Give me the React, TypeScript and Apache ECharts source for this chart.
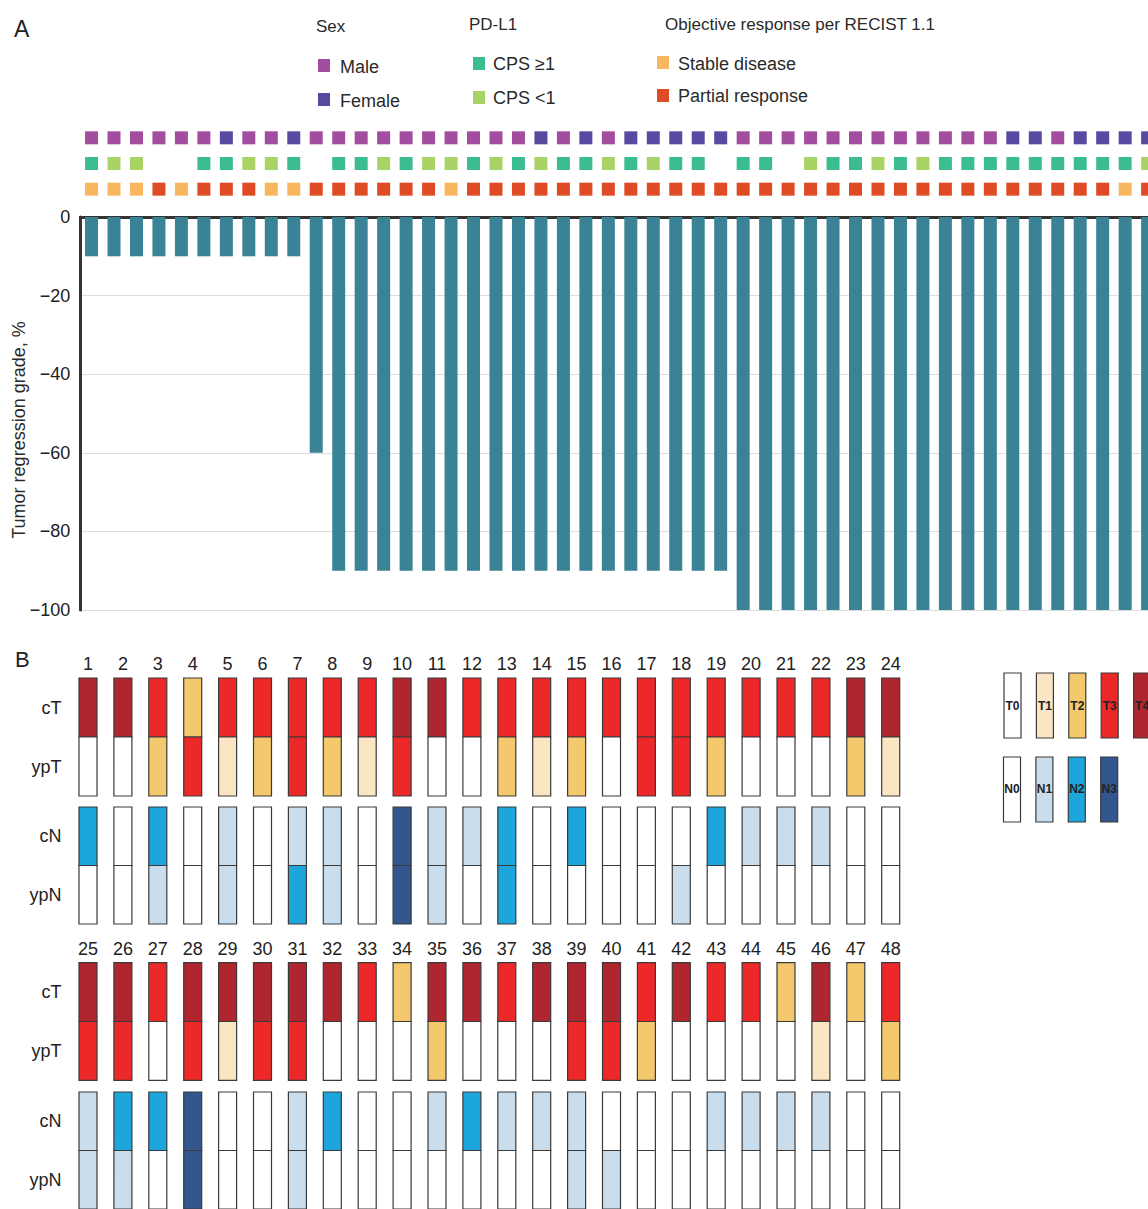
import React, { useEffect, useRef } from 'react';
import * as echarts from 'echarts';

// ---------- data ----------
const patients = ['1','2','3','4','5','6','7','8','9','10','11','12','13','14','15','16','17','18','19','20','21','22','23','24',
  '25','26','27','28','29','30','31','32','33','34','35','36','37','38','39','40','41','42','43','44','45','46','47','48'];

const regression = [-10,-10,-10,-10,-10,-10,-10,-10,-10,-10,-60,
  -90,-90,-90,-90,-90,-90,-90,-90,-90,-90,-90,-90,-90,-90,-90,-90,-90,-90,
  -100,-100,-100,-100,-100,-100,-100,-100,-100,-100,-100,-100,-100,-100,-100,-100,-100,-100,-100];

const sex = ['M','M','M','M','M','M','F','M','M','F','M','M','M','M','M','M','M','M','M','M','F','M','F','M',
  'F','F','F','F','F','M','M','M','M','M','M','M','M','M','M','M','M','F','F','M','F','F','F','F'];

const pdl1 = ['H','L','L',null,null,'H','H','L','L','H',null,'H','H','L','H','L','L','H','L','H','L','H','H','L',
  'H','L','H','H',null,'H','H',null,'L','H','H','L','H','L','H','H','H','H','H','H','H','H','H','L'];

const response = ['SD','SD','SD','PR','SD','PR','PR','PR','SD','SD','PR','PR','PR','PR','PR','PR','SD','PR','PR','PR','PR','PR','PR','PR',
  'PR','PR','PR','PR','PR','PR','PR','PR','PR','PR','PR','PR','PR','PR','PR','PR','PR','PR','PR','PR','PR','PR','SD','PR'];

const cT = ['T4','T4','T3','T2','T3','T3','T3','T3','T3','T4','T4','T3','T3','T3','T3','T3','T3','T3','T3','T3','T3','T3','T4','T4',
  'T4','T4','T3','T4','T4','T4','T4','T4','T3','T2','T4','T4','T3','T4','T4','T4','T3','T4','T3','T3','T2','T4','T2','T3'];
const ypT = ['T0','T0','T2','T3','T1','T2','T3','T2','T1','T3','T0','T0','T2','T1','T2','T0','T3','T3','T2','T0','T0','T0','T2','T1',
  'T3','T3','T0','T3','T1','T3','T3','T0','T0','T0','T2','T0','T0','T0','T3','T3','T2','T0','T0','T0','T0','T1','T0','T2'];
const cN = ['N2','N0','N2','N0','N1','N0','N1','N1','N0','N3','N1','N1','N2','N0','N2','N0','N0','N0','N2','N1','N1','N1','N0','N0',
  'N1','N2','N2','N3','N0','N0','N1','N2','N0','N0','N1','N2','N1','N1','N1','N0','N0','N0','N1','N1','N1','N1','N0','N0'];
const ypN = ['N0','N0','N1','N0','N1','N0','N2','N1','N0','N3','N1','N0','N2','N0','N0','N0','N0','N1','N0','N0','N0','N0','N0','N0',
  'N1','N1','N0','N3','N0','N0','N1','N0','N0','N0','N0','N0','N0','N0','N1','N1','N0','N0','N0','N0','N0','N0','N0','N0'];

const tLegend = ['T0','T1','T2','T3','T4'];
const nLegend = ['N0','N1','N2','N3'];

// ---------- styles ----------
const FONT = '"Liberation Sans", Arial, Helvetica, sans-serif';
const BAR = '#3a8296';
const SEX_C: Record<string, string> = { M: '#a34d9f', F: '#5849a1' };
const PD_C: Record<string, string> = { H: '#3bbd8f', L: '#a9d465' };
const RESP_C: Record<string, string> = { SD: '#f8b65e', PR: '#df4b25' };
const STAGE_C: Record<string, string> = {
  T0: '#ffffff', T1: '#fbe6c3', T2: '#f4c96d', T3: '#ec2828', T4: '#b0262e',
  N0: '#ffffff', N1: '#cadded', N2: '#1da6dc', N3: '#33568f',
};

const BAND = 22.47;
const A_LEFT = 80.3;
const COLW = 34.9;
const B_LEFT = 70.55;

function cellData(top: string[], bottom: string[]) {
  const out: any[] = [];
  top.forEach((k, i) => out.push({ value: [i, 0], itemStyle: { color: STAGE_C[k] } }));
  bottom.forEach((k, i) => out.push({ value: [i, 1], itemStyle: { color: STAGE_C[k] } }));
  return out;
}

const renderCell = (params: any, api: any) => {
  const c = api.coord([api.value(0), api.value(1)]);
  const s = api.size([1, 1]);
  const w = 18;
  return {
    type: 'rect',
    shape: { x: c[0] - w / 2, y: c[1] - s[1] / 2, width: w, height: s[1] },
    style: { fill: api.visual('color'), stroke: '#3a3a3a', lineWidth: 1.2 },
  };
};

export default function App() {
  const ref = useRef<HTMLDivElement>(null);
  useEffect(() => {
    if (!ref.current) return;
    const chart = echarts.init(ref.current, undefined, { renderer: 'svg' });

    const first = patients.slice(0, 24);
    const second = patients.slice(24);

    const legendText = (x: number, y: number, t: string, size = 18) => ({
      type: 'text', x, y,
      style: { text: t, font: `${size}px ${FONT}`, fill: '#2a2a2a', textVerticalAlign: 'middle' },
    });
    const legendSq = (x: number, y: number, color: string) => ({
      type: 'rect', shape: { x, y, width: 12, height: 13 }, style: { fill: color },
    });

    const graphics: any[] = [
      { type: 'text', x: 14, y: 29, style: { text: 'A', font: `23px ${FONT}`, fill: '#222', textVerticalAlign: 'middle' } },
      { type: 'text', x: 15, y: 659, style: { text: 'B', font: `22px ${FONT}`, fill: '#222', textVerticalAlign: 'middle' } },
      legendText(316, 26, 'Sex', 17),
      legendText(469, 24, 'PD-L1', 17),
      legendText(665, 24, 'Objective response per RECIST 1.1', 17),
      legendSq(318, 59, SEX_C.M), legendText(340, 67, 'Male'),
      legendSq(318, 93, SEX_C.F), legendText(340, 101, 'Female'),
      legendSq(473, 57, PD_C.H), legendText(493, 64, 'CPS ≥1'),
      legendSq(473, 91, PD_C.L), legendText(493, 98, 'CPS <1'),
      legendSq(657, 56, RESP_C.SD), legendText(678, 64, 'Stable disease'),
      legendSq(657, 89, RESP_C.PR), legendText(678, 96, 'Partial response'),
      {
        type: 'text', x: 18.5, y: 430, rotation: Math.PI / 2,
        style: { text: 'Tumor regression grade, %', font: `18px ${FONT}`, fill: '#2a2a2a', textAlign: 'center', textVerticalAlign: 'middle' },
      },
    ];
    tLegend.forEach((k, i) => {
      const x = 1004 + i * 32.4;
      graphics.push({ type: 'rect', shape: { x, y: 673, width: 17, height: 65 }, style: { fill: STAGE_C[k], stroke: '#3a3a3a', lineWidth: 1.2 } });
      graphics.push({ type: 'text', x: x + 8.5, y: 706, style: { text: k, font: `bold 12px ${FONT}`, fill: '#222', textAlign: 'center', textVerticalAlign: 'middle' } });
    });
    nLegend.forEach((k, i) => {
      const x = 1003.5 + i * 32.4;
      graphics.push({ type: 'rect', shape: { x, y: 757, width: 17, height: 65 }, style: { fill: STAGE_C[k], stroke: '#3a3a3a', lineWidth: 1.2 } });
      graphics.push({ type: 'text', x: x + 8.5, y: 789, style: { text: k, font: `bold 12px ${FONT}`, fill: '#222', textAlign: 'center', textVerticalAlign: 'middle' } });
    });

    const hiddenCat = (data: string[], gridIndex: number) => ({
      type: 'category', data, gridIndex, show: false,
    });
    const numAxis = (data: string[], gridIndex: number) => ({
      type: 'category', data, gridIndex, position: 'top',
      axisLine: { show: false }, axisTick: { show: false },
      axisLabel: { fontSize: 18, color: '#222', fontFamily: FONT, margin: 5 },
    });
    const rowAxis = (data: string[], gridIndex: number) => ({
      type: 'category', data, gridIndex, inverse: true,
      axisLine: { show: false }, axisTick: { show: false }, splitLine: { show: false },
      axisLabel: { fontSize: 18, color: '#222', fontFamily: FONT, margin: 9 },
    });

    const option: any = {
      animation: false,
      backgroundColor: '#ffffff',
      textStyle: { fontFamily: FONT },
      grid: [
        { left: A_LEFT, top: 217, width: BAND * 48, height: 393 },
        { left: A_LEFT, top: 125, width: BAND * 48, height: 77 },
        { left: B_LEFT, top: 678, width: COLW * 24, height: 118 },
        { left: B_LEFT, top: 807, width: COLW * 24, height: 117 },
        { left: B_LEFT, top: 962.7, width: COLW * 24, height: 117.6 },
        { left: B_LEFT, top: 1092, width: COLW * 24, height: 118 },
      ],
      xAxis: [
        {
          type: 'category', data: patients, gridIndex: 0, position: 'top',
          axisLine: { show: true, lineStyle: { color: '#333', width: 3 } },
          axisTick: { show: false }, axisLabel: { show: false },
        },
        hiddenCat(patients, 1),
        numAxis(first, 2),
        hiddenCat(first, 3),
        numAxis(second, 4),
        hiddenCat(second, 5),
      ],
      yAxis: [
        {
          type: 'value', gridIndex: 0, min: -100, max: 0, interval: 20,
          axisLine: { show: true, lineStyle: { color: '#333', width: 3 } },
          axisTick: { show: false },
          splitLine: { show: true, lineStyle: { color: '#dddddd', width: 1 } },
          axisLabel: {
            fontSize: 18, color: '#222', fontFamily: FONT, margin: 10,
            formatter: (v: number) => (v < 0 ? '\u2212' + Math.abs(v) : String(v)),
          },
        },
        { type: 'category', data: ['Sex', 'PD-L1', 'Response'], gridIndex: 1, inverse: true, show: false },
        rowAxis(['cT', 'ypT'], 2),
        rowAxis(['cN', 'ypN'], 3),
        rowAxis(['cT', 'ypT'], 4),
        rowAxis(['cN', 'ypN'], 5),
      ],
      series: [
        {
          type: 'bar', xAxisIndex: 0, yAxisIndex: 0, data: regression, barWidth: 13,
          itemStyle: { color: BAR },
        },
        {
          type: 'scatter', xAxisIndex: 1, yAxisIndex: 1, symbol: 'rect', symbolSize: 13,
          itemStyle: { opacity: 1 },
          data: sex.map((s, i) => ({ value: [i, 0], itemStyle: { color: SEX_C[s], opacity: 1 } })),
        },
        {
          type: 'scatter', xAxisIndex: 1, yAxisIndex: 1, symbol: 'rect', symbolSize: 13,
          itemStyle: { opacity: 1 },
          data: pdl1.map((p, i) => (p ? { value: [i, 1], itemStyle: { color: PD_C[p], opacity: 1 } } : null)).filter(Boolean),
        },
        {
          type: 'scatter', xAxisIndex: 1, yAxisIndex: 1, symbol: 'rect', symbolSize: 13,
          itemStyle: { opacity: 1 },
          data: response.map((r, i) => ({ value: [i, 2], itemStyle: { color: RESP_C[r], opacity: 1 } })),
        },
        { type: 'custom', xAxisIndex: 2, yAxisIndex: 2, renderItem: renderCell, data: cellData(cT.slice(0, 24), ypT.slice(0, 24)) },
        { type: 'custom', xAxisIndex: 3, yAxisIndex: 3, renderItem: renderCell, data: cellData(cN.slice(0, 24), ypN.slice(0, 24)) },
        { type: 'custom', xAxisIndex: 4, yAxisIndex: 4, renderItem: renderCell, data: cellData(cT.slice(24), ypT.slice(24)) },
        { type: 'custom', xAxisIndex: 5, yAxisIndex: 5, renderItem: renderCell, data: cellData(cN.slice(24), ypN.slice(24)) },
      ],
      graphic: graphics,
    };
    chart.setOption(option);
    return () => chart.dispose();
  }, []);

  return (
    <div style={{ position: 'absolute', left: 0, top: 0, width: 1148, height: 1209, overflow: 'hidden', background: '#fff' }}>
      <div ref={ref} style={{ width: 1170, height: 1209 }} />
    </div>
  );
}
